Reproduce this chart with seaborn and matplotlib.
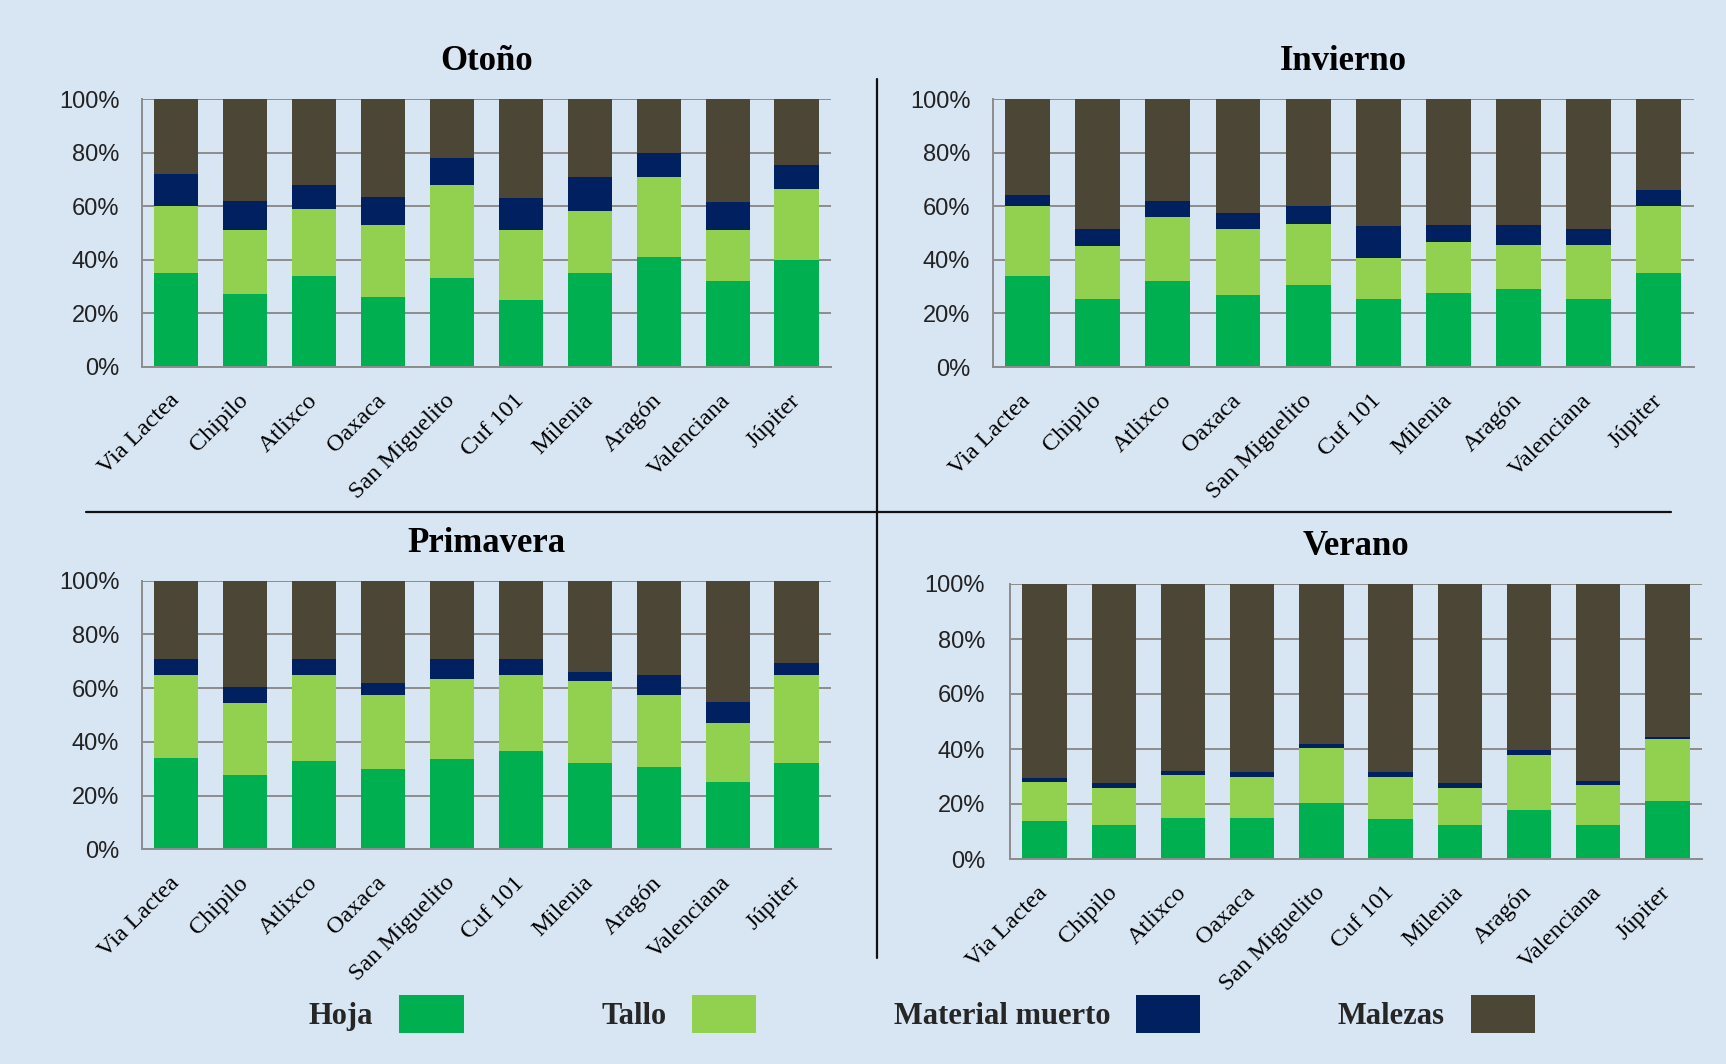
import numpy as np
import pandas as pd
import matplotlib
matplotlib.use("Agg")
import matplotlib.pyplot as plt
from matplotlib.patches import Patch
from matplotlib.lines import Line2D
import seaborn as sns

# ---------------- data ----------------
varieties = ["Via Lactea", "Chipilo", "Atlixco", "Oaxaca", "San Miguelito",
             "Cuf 101", "Milenia", "Aragón", "Valenciana", "Júpiter"]
components = ["Hoja", "Tallo", "Material muerto", "Malezas"]
seasons = ["Otoño", "Invierno", "Primavera", "Verano"]

otono_hoja = [35, 27, 34, 26, 33, 25, 35, 41, 32, 40]
otono_tallo = [25, 24, 25, 27, 35, 26, 23, 30, 19, 26.5]
otono_muerto = [12, 11, 9, 10.5, 10, 12, 13, 9, 10.5, 9]
otono_malezas = [28, 38, 32, 36.5, 22, 37, 29, 20, 38.5, 24.5]

invierno_hoja = [34, 25.5, 32, 27, 30.5, 25.5, 27.5, 29, 25.5, 35]
invierno_tallo = [26, 19.5, 24, 24.5, 23, 15, 19, 16.5, 20, 25]
invierno_muerto = [4, 6.5, 6, 6, 6.5, 12, 6.5, 7.5, 6, 6]
invierno_malezas = [36, 48.5, 38, 42.5, 40, 47.5, 47, 47, 48.5, 34]

primavera_hoja = [34, 27.5, 33, 30, 33.5, 36.5, 32, 30.5, 25, 32]
primavera_tallo = [31, 27, 32, 27.5, 30, 28.5, 30.5, 27, 22, 33]
primavera_muerto = [6, 6, 6, 4.5, 7.5, 6, 3.5, 7.5, 8, 4.5]
primavera_malezas = [29, 39.5, 29, 38, 29, 29, 34, 35, 45, 30.5]

verano_hoja = [14, 12.5, 15, 15, 20.5, 14.5, 12.5, 18, 12.5, 21]
verano_tallo = [14, 13.5, 15.5, 15, 20, 15.5, 13.5, 20, 14.5, 22.5]
verano_muerto = [1.5, 1.5, 1.5, 1.5, 1.5, 1.5, 1.5, 1.5, 1.5, 0.8]
verano_malezas = [70.5, 72.5, 68, 68.5, 58, 68.5, 72.5, 60.5, 71.5, 55.7]

y_ticks = [0, 20, 40, 60, 80, 100]
y_tick_labels = ["0%", "20%", "40%", "60%", "80%", "100%"]

season_data = {
    "Otoño": [otono_hoja, otono_tallo, otono_muerto, otono_malezas],
    "Invierno": [invierno_hoja, invierno_tallo, invierno_muerto, invierno_malezas],
    "Primavera": [primavera_hoja, primavera_tallo, primavera_muerto, primavera_malezas],
    "Verano": [verano_hoja, verano_tallo, verano_muerto, verano_malezas],
}

colors = ["#00B050", "#92D050", "#002060", "#4B4636"]
bg = "#d8e5f3"

# ---------------- style ----------------
sns.set_theme(style="white")
plt.rcParams["font.family"] = ["Liberation Serif", "DejaVu Serif"]

W, H = 1726, 1064
fig = plt.figure(figsize=(W / 100, H / 100), dpi=100)
fig.patch.set_facecolor(bg)

# axes rectangles in pixels: left, right, top, bottom
rects = {
    "Otoño": (141.5, 831, 99, 366.7),
    "Invierno": (992.5, 1694, 99, 367),
    "Primavera": (141.5, 831, 580.7, 849.3),
    "Verano": (1010, 1702, 584, 859),
}

for season in seasons:
    l, r, t, b = rects[season]
    ax = fig.add_axes([l / W, 1 - b / H, (r - l) / W, (b - t) / H])
    ax.set_facecolor("none")
    vals = np.array(season_data[season], dtype=float)
    pct = vals / vals.sum(axis=0) * 100
    cum = np.cumsum(pct, axis=0)
    # draw from top layer downwards so lower layers overlay
    for i in range(len(components) - 1, -1, -1):
        df = pd.DataFrame({"Variedad": varieties, "Valor": cum[i]})
        sns.barplot(data=df, x="Variedad", y="Valor", color=colors[i],
                    saturation=1, width=0.64, errorbar=None, ax=ax,
                    linewidth=0, order=varieties)
    ax.set_xlim(-0.5, len(varieties) - 0.5)
    ax.set_ylim(0, 100)
    ax.set_yticks(y_ticks)
    ax.set_yticklabels(y_tick_labels, family=["Liberation Sans", "DejaVu Sans"],
                       fontsize=17, color="#222222")
    ax.set_xlabel("")
    ax.set_ylabel("")
    ax.set_xticks(range(len(varieties)))
    ax.set_xticklabels(varieties, rotation=45, ha="right", va="center",
                       rotation_mode="anchor", fontsize=17.5, color="#000000")
    ax.tick_params(axis="x", length=0, pad=22)
    ax.tick_params(axis="y", length=0, pad=16 if season != "Verano" else 18)
    ax.yaxis.grid(True, color="#8c8c8c", linewidth=1.4)
    ax.xaxis.grid(False)
    ax.set_axisbelow(True)
    for side in ["top", "right"]:
        ax.spines[side].set_visible(False)
    for side in ["left", "bottom"]:
        ax.spines[side].set_visible(True)
        ax.spines[side].set_color("#8c8c8c")
        ax.spines[side].set_linewidth(1.4)
    ax.set_title(season, fontsize=25, fontweight="bold", color="#000000", pad=21)

# dividing lines
fig.add_artist(Line2D([877 / W, 877 / W], [1 - 79 / H, 1 - 958 / H],
                      color="#111111", linewidth=1.6))
fig.add_artist(Line2D([86 / W, 1671 / W], [1 - 512 / H, 1 - 512 / H],
                      color="#111111", linewidth=1.6))

# legend
handles = [Patch(facecolor=c, edgecolor="none", label=n) for c, n in zip(colors, components)]
leg = fig.legend(handles=handles, loc="center", bbox_to_anchor=(922 / W, 1 - 1014 / H),
                 ncol=4, frameon=False, markerfirst=False,
                 prop={"family": ["Liberation Serif", "DejaVu Serif"], "size": 22,
                       "weight": "bold"},
                 handlelength=2.1, handleheight=1.5, handletextpad=0.85,
                 columnspacing=4.5)

fig.savefig("out.png", dpi=100, facecolor=bg)
